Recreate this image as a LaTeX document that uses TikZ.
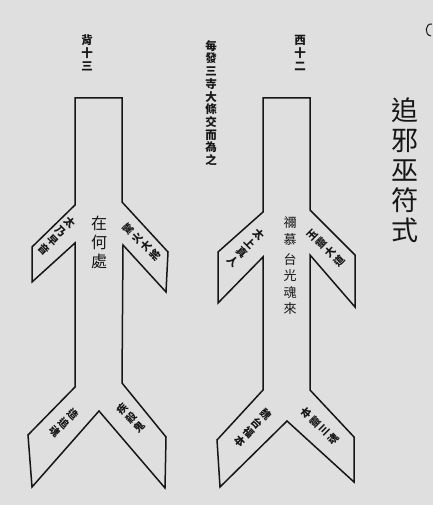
\documentclass[tikz,border=0pt]{standalone}
\usepackage{fontspec}
\newfontfamily\cjk{Noto Sans CJK TC}
\definecolor{paper}{RGB}{223,223,223}
\definecolor{ink}{RGB}{22,22,22}
\tikzset{
	x=1pt,
	y=-1pt,
	outline/.style = {
		draw=ink,
		line width=1.5pt,
		line join=miter
	},
	every node/.style = {
		text=ink,
		inner sep=0pt,
		align=center
	},
	smallchar/.style = {font=\cjk\bfseries\fontsize{11.5}{12.7}\selectfont},
	armchar/.style = {font=\cjk\bfseries\fontsize{10.5}{12.5}\selectfont},
	stemchar/.style = {font=\cjk\fontsize{16}{19}\selectfont},
	titlechar/.style = {font=\cjk\fontsize{27}{30}\selectfont}
}
\begin{document}
\begin{tikzpicture}
	\useasboundingbox[fill=paper] (0,0) rectangle (433,505);
	% left talisman
	\draw[outline] (75,98) -- (122,98) -- (122,202) -- (168,252) -- (166,292)
		-- (123,245) -- (122,383) -- (166,437) -- (165,488) -- (99,411)
		-- (32,487) -- (28,435) -- (75,387) -- (75,243) -- (32,282)
		-- (32,247) -- (75,205) -- cycle;
	% right talisman
	\draw[outline] (263,98) -- (310,98) -- (310,210) -- (355,255) -- (355,307)
		-- (310,255) -- (310,390) -- (354,437) -- (354,482) -- (287,421)
		-- (220,487) -- (217,440) -- (263,390) -- (263,257) -- (218,303)
		-- (218,252) -- (263,212) -- cycle;
	% mark in the corner
	\draw[draw=ink, line width=1pt] (432,24) .. controls (425,23) and (424,35) .. (431,36);
	% headings
	\node[smallchar] (back) at (87,53) {背\\十\\三};
	\node[smallchar] (west) at (300,53) {西\\十\\二};
	\node[smallchar] (note) at (211,103) {每\\發\\三\\寺\\大\\條\\交\\而\\為\\之};
	\node[titlechar] (title) at (405,170) {追\\邪\\巫\\符\\式};
	% left talisman texts
	\node[stemchar] (where) at (99,242) {在\\何\\處};
	\node[armchar, rotate=-45] (lul) at (57,236) {太\\乃\\早\\音};
	\node[armchar, rotate=45] (lur) at (142,242) {驚\\火\\大\\將};
	\node[armchar, rotate=-45] (lbl) at (64,423) {造\\追\\魂};
	\node[armchar, rotate=45] (lbr) at (131,418) {疾\\殺\\鬼};
	% right talisman texts
	\node[font=\cjk\fontsize{13}{17}\selectfont] (call) at (290,231) {禰\\慕};
	\node[font=\cjk\fontsize{13}{16.5}\selectfont] (soul) at (290,284) {台\\光\\魂\\來};
	\node[armchar, rotate=-45] (rul) at (246,248) {太\\上\\真\\人};
	\node[armchar, rotate=45] (rur) at (326,248) {玉\\靈\\大\\道};
	\node[armchar, rotate=-45] (rbl) at (253,428) {魏\\台\\福\\本};
	\node[armchar, rotate=45] (rbr) at (320,426) {本\\靈\\三\\魂};
\end{tikzpicture}
\end{document}
